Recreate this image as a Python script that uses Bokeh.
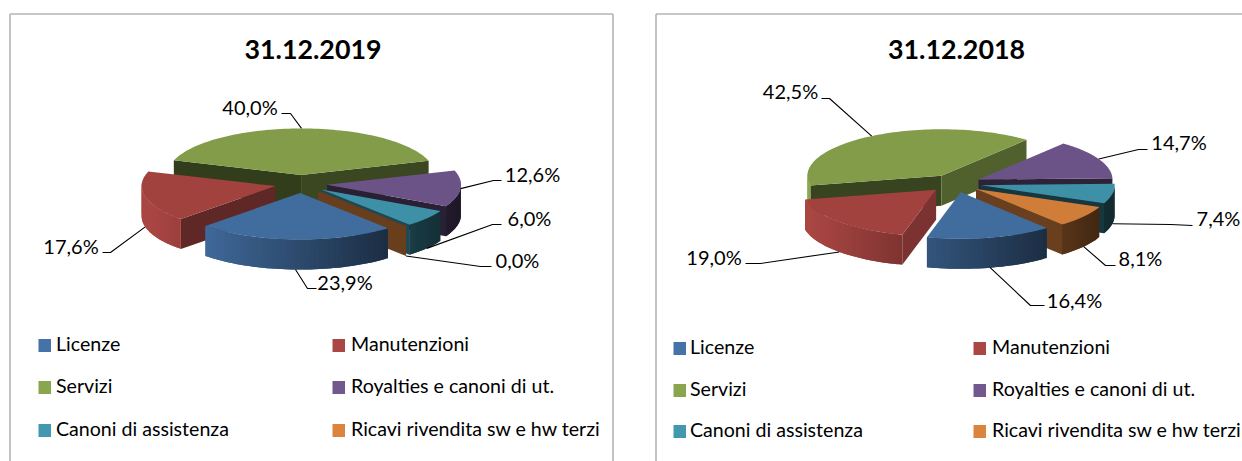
import numpy as np
from bokeh.plotting import figure
from bokeh.models import Range1d
from bokeh.embed import file_html
from bokeh.resources import INLINE
from bokeh.core.properties import value

categories = ["Licenze", "Manutenzioni", "Servizi", "Royalties e canoni di ut.",
              "Canoni di assistenza", "Ricavi rivendita sw e hw terzi"]
values_2019 = [23.9, 17.6, 40.0, 12.6, 6.0, 0.0]
values_2018 = [16.4, 19.0, 42.5, 14.7, 7.4, 8.1]
title_2019 = "31.12.2019"
title_2018 = "31.12.2018"
colors = ["#4572A7", "#AA4643", "#89A54E", "#71588F", "#4198AF", "#DB843D"]

FONT = "Lato"
DRAW_ORDER = [2, 3, 1, 4, 5, 0]          # back to front
A, B, DEPTH, EXPLODE = 134.0, 46.5, 30.0, 0.195


def shade(hex_color, f):
    rgb = [int(hex_color[i:i + 2], 16) for i in (1, 3, 5)]
    return "#%02x%02x%02x" % tuple(int(min(255, max(0, c * f))) for c in rgb)


def wall_factor(normal):
    return float(np.interp(normal % 360, [100, 135, 165, 205, 230], [.75, .56, .42, .36, .48]))


p = figure(width=1242, height=461, x_range=Range1d(0, 1242), y_range=Range1d(461, 0),
           output_backend="svg", toolbar_location=None, min_border=0,
           outline_line_color=None, background_fill_color="white", border_fill_color="white")
p.axis.visible = False
p.grid.visible = False


def draw_panel(x0, y0, vals, first_angle, title, title_x, frame, leaders, legend_x, legend_y):
    fx0, fx1, fy0 = frame
    p.line([fx0, fx0], [480, fy0], line_color="#B4B4B4", line_width=1.6)
    p.line([fx0, fx1], [fy0, fy0], line_color="#B4B4B4", line_width=1.6)
    if fx1 < 1240:
        p.line([fx1, fx1], [fy0, 480], line_color="#B4B4B4", line_width=1.6)

    shares = np.array(vals) / sum(vals) * 360
    ends = first_angle + np.cumsum(shares)
    starts = ends - shares
    xs, ys, cs = [], [], []

    def add(px, py, c):
        xs.append(list(px)); ys.append(list(py)); cs.append(c)

    apex = {}
    for i in range(len(vals)):
        mid = np.radians((starts[i] + ends[i]) / 2)
        apex[i] = (x0 + EXPLODE * A * np.sin(mid), y0 - EXPLODE * B * np.cos(mid))

    for i in DRAW_ORDER:
        ax, ay = apex[i]
        s, e = starts[i], ends[i]
        col = colors[i]
        for ang, normal in ((s, s - 90), (e, e + 90)):
            if -np.cos(np.radians(normal)) > 0:
                cx = ax + A * np.sin(np.radians(ang))
                cy = ay - B * np.cos(np.radians(ang))
                c = shade(col, wall_factor(normal))
                add([ax, cx, cx, ax], [ay, cy, cy + DEPTH, ay + DEPTH], c)
        if e > s:
            th = np.linspace(s, e, max(3, int((e - s) / 2) + 1))
            for k in range(len(th) - 1):
                t0, t1 = th[k], th[k + 1]
                tm = np.radians((t0 + t1) / 2)
                if np.cos(tm) < 0.02:
                    t2 = th[min(k + 2, len(th) - 1)]      # overlap the next strip to hide seams
                    rr = np.radians(np.array([t0, t1, t2]))
                    qx = list(ax + A * np.sin(rr))
                    qy = list(ay - B * np.cos(rr))
                    f = min(1.0, max(.27, .65 - .38 * np.sin(tm)))
                    add(qx + qx[::-1], qy + [v + DEPTH for v in qy[::-1]], shade(col, f))
            rad = np.radians(np.linspace(s, e, 90))
            add([ax] + list(ax + A * np.sin(rad)), [ay] + list(ay - B * np.cos(rad)), shade(col, .95))

    p.patches(xs, ys, fill_color=cs, line_color=None)

    # leaders and value labels
    for i, (lx, ly, elbow) in enumerate(leaders):
        m = (starts[i] + ends[i]) / 2
        r = np.radians(m)
        ax, ay = apex[i]
        px = ax + A * np.sin(r)
        py = ay - B * np.cos(r) + (DEPTH if 96 < m % 360 < 264 else 0)
        p.line([px] + [q[0] for q in elbow], [py] + [q[1] for q in elbow],
               line_color="#000000", line_width=1.1)
        p.text([lx], [ly - 1.5], text=[f"{vals[i]:.1f}%".replace(".", ",")],
               text_font=value(FONT), text_font_size="20px", text_color="#000000",
               text_align="center", text_baseline="middle")

    p.text([title_x], [48.5], text=[title], text_font=value(FONT),
           text_font_size="26.8px", text_font_style="bold", text_color="#000000",
           text_align="center", text_baseline="middle")

    # legend
    for i, name in enumerate(categories):
        lxs, off = legend_x[i % 2]
        yy = legend_y[i // 2]
        p.quad(left=[lxs], right=[lxs + 12.5], top=[yy - 6.5], bottom=[yy + 6.5], fill_color=colors[i], line_color=None)
        p.text([lxs + off], [yy - 2], text=[name], text_font=value(FONT), text_font_size="19.6px",
               text_color="#000000", text_align="left", text_baseline="middle")


leaders_2019 = [
    (344.5, 283, [(307, 288), (316, 288)]),
    (70.5, 247, [(110, 252), (102, 252)]),
    (249.5, 108, [(290, 113), (281, 113)]),
    (532, 175, [(493, 180), (501, 180)]),
    (529, 219, [(492, 224), (501, 224)]),
    (517, 261, [(480, 266), (491, 266)]),
]
leaders_2018 = [
    (1074, 301, [(1030, 305), (1044, 305)]),
    (713.5, 258, [(760, 263), (745, 263)]),
    (790, 92, [(829, 98), (821, 98)]),
    (1178.5, 143, [(1138, 149), (1147, 149)]),
    (1218, 219, [(1170, 224), (1192, 225)]),
    (1140, 259, [(1105, 265), (1115, 265)]),
]

draw_panel(300.5, 183.5, values_2019, 139.0, title_2019, 312.5, (9.5, 612.5, 13.5), leaders_2019,
           [(38, 17.5), (332, 18.5)], [345, 387, 430])
draw_panel(954.5, 183.0, values_2018, 140.0, title_2018, 956, (655.5, 1300, 13.5), leaders_2018,
           [(673, 16.5), (973, 18.5)], [348, 390, 431])

open("out.html", "w").write(file_html(p, INLINE))
